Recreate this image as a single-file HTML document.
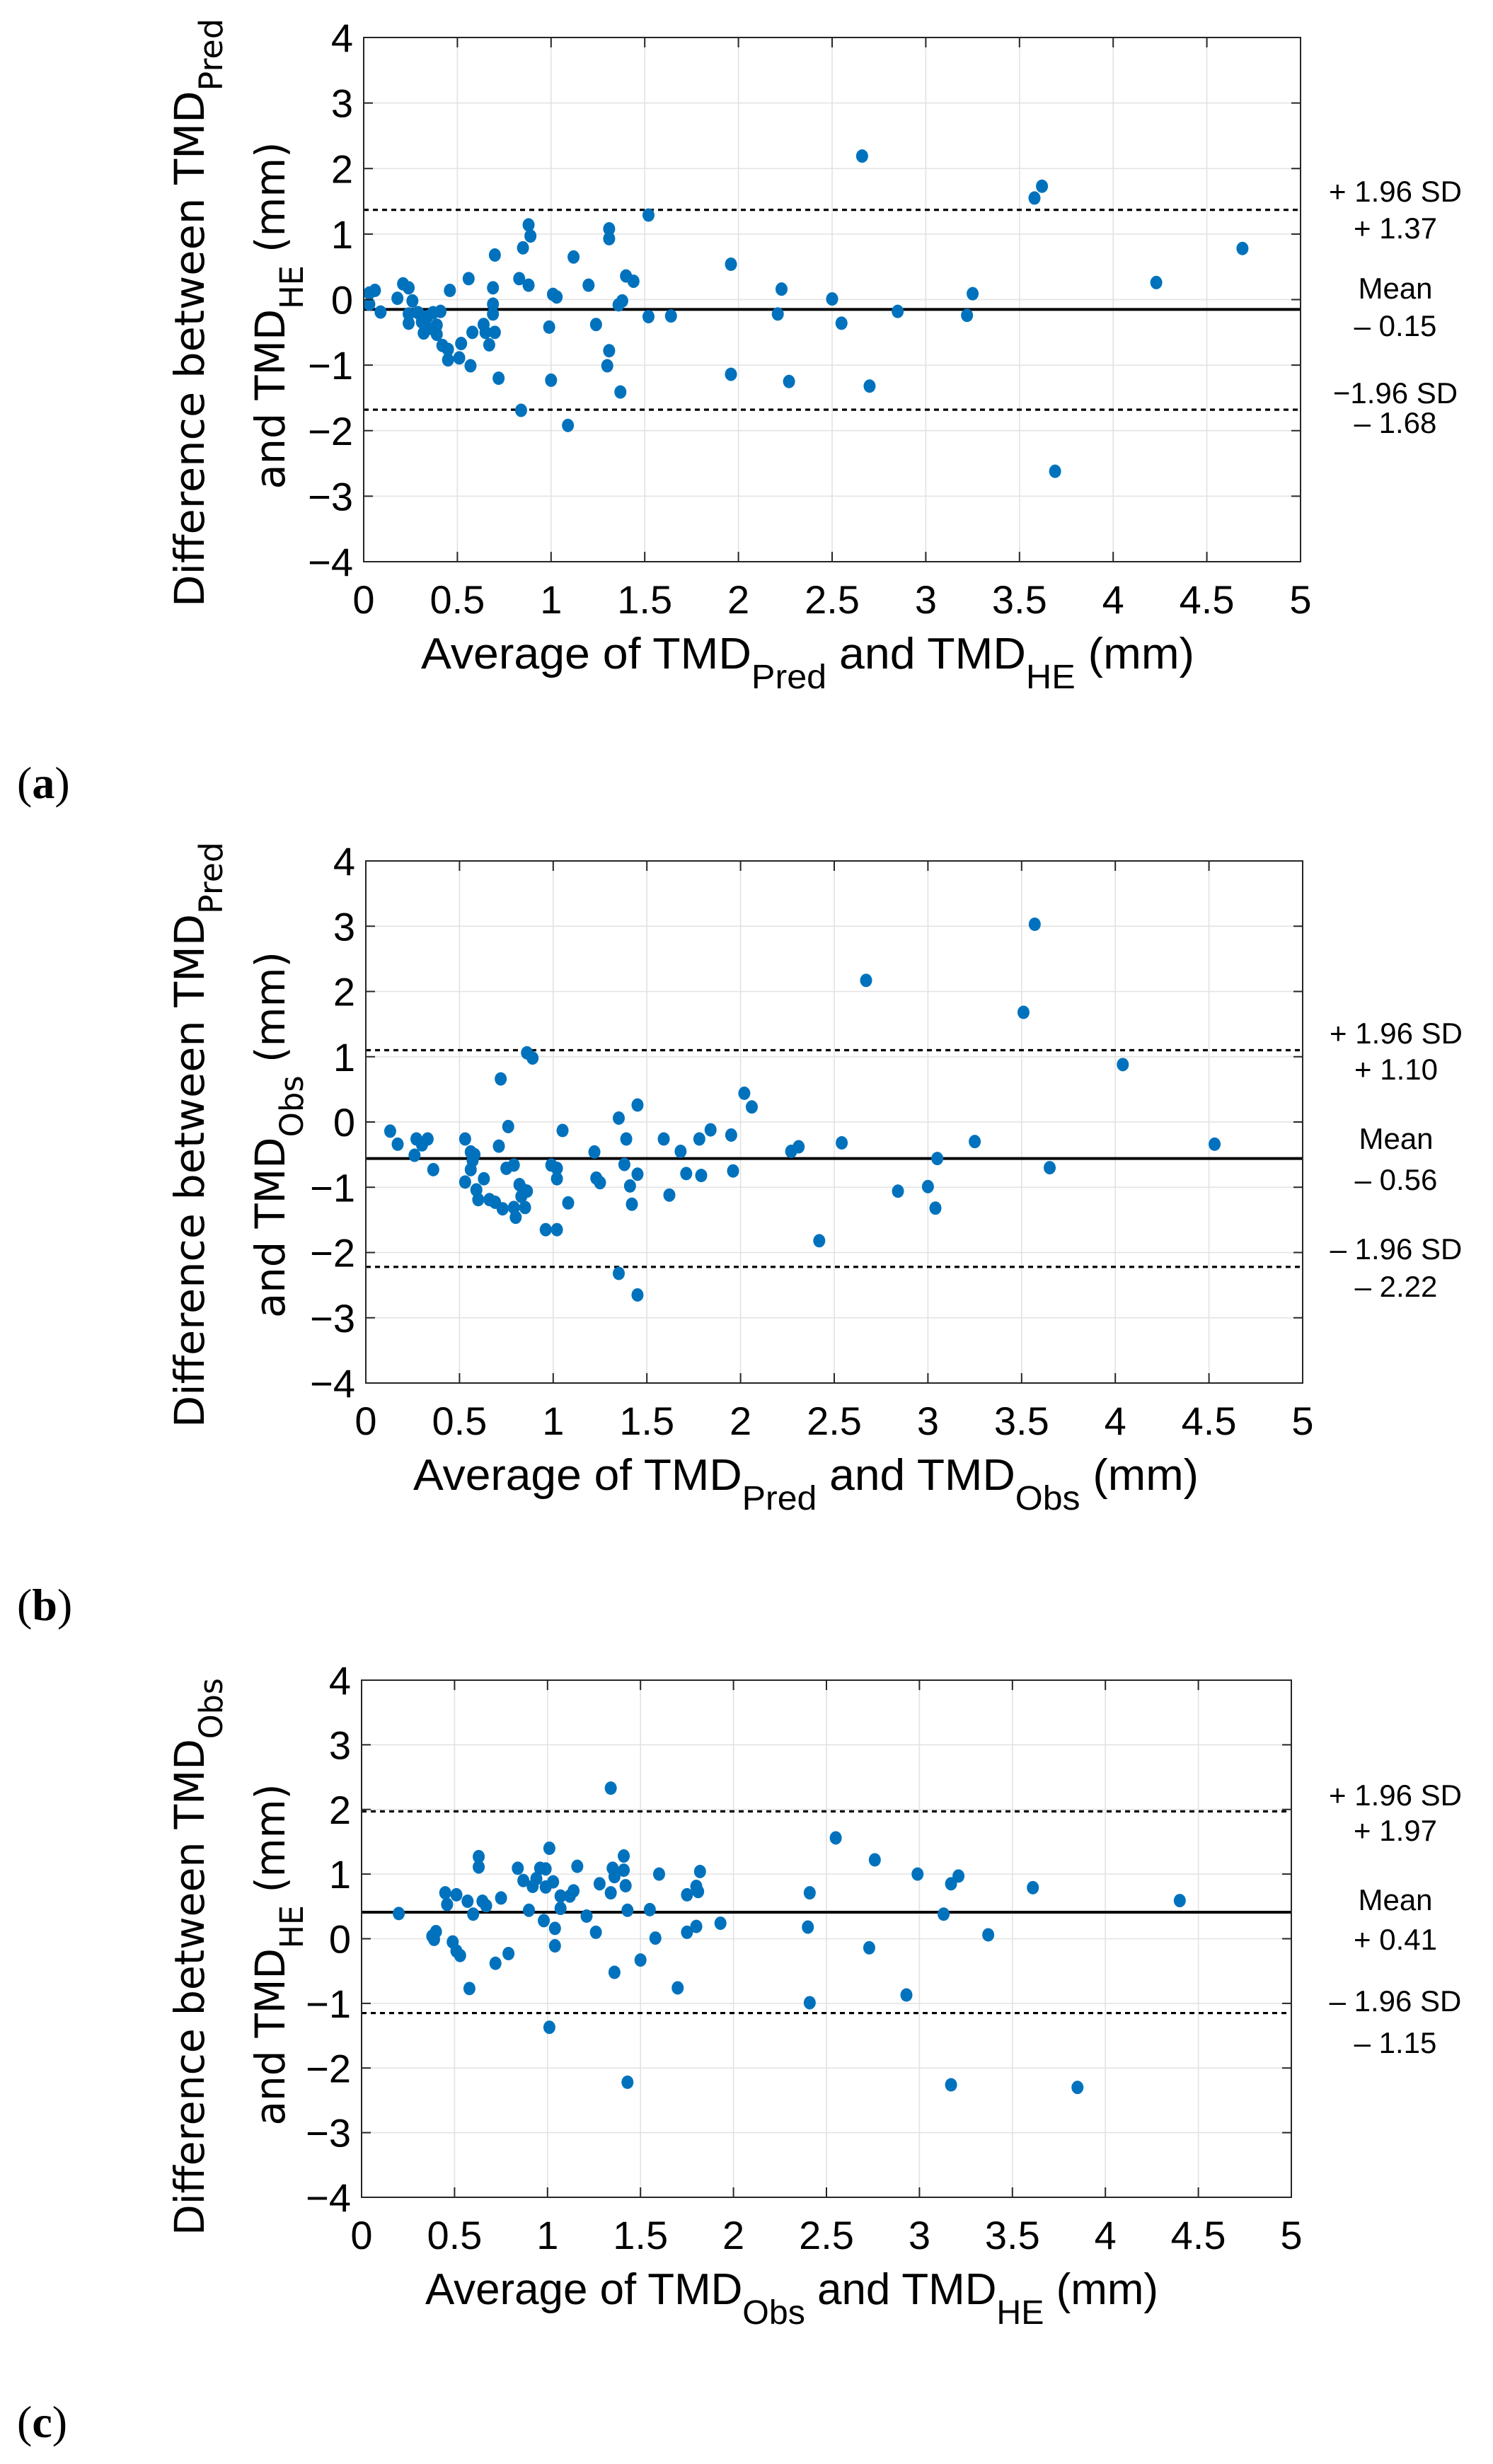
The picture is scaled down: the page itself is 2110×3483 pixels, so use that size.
<!DOCTYPE html>
<html><head><meta charset="utf-8">
<style>
html,body{margin:0;padding:0;background:#fff;}
svg{display:block;}
text{font-family:"Liberation Sans",sans-serif;fill:#000;}
.yl{font-family:"DejaVu Sans","Liberation Sans",sans-serif;}
</style></head>
<body>
<svg id="chart" width="2110" height="3483" viewBox="0 0 2110 3483" xmlns="http://www.w3.org/2000/svg"></svg>
<script>
// ---- data ----
const xTicks = [0,0.5,1,1.5,2,2.5,3,3.5,4,4.5,5];
const xTickLabels = ["0","0.5","1","1.5","2","2.5","3","3.5","4","4.5","5"];
const yTicks = [-4,-3,-2,-1,0,1,2,3,4];
const yTickLabels = ["\u22124","\u22123","\u22122","\u22121","0","1","2","3","4"];

const aAvg = [0.03,0.03,0.06,0.09,0.18,0.21,0.24,0.24,0.24,0.26,0.29,0.31,0.32,0.34,0.35,0.37,0.39,0.39,0.41,0.42,0.45,0.45,0.46,0.51,0.52,0.56,0.57,0.58,0.64,0.65,0.67,0.69,0.69,0.69,0.70,0.70,0.72,0.83,0.84,0.85,0.88,0.88,0.89,0.99,1.0,1.01,1.03,1.09,1.12,1.2,1.24,1.3,1.31,1.31,1.31,1.36,1.37,1.38,1.4,1.44,1.52,1.52,1.64,1.96,1.96,2.21,2.23,2.27,2.5,2.55,2.66,2.70,2.85,3.22,3.25,3.58,3.62,3.69,4.23,4.69];
const aDiff = [0.10,-0.07,0.14,-0.19,0.02,0.24,0.18,-0.22,-0.36,-0.02,-0.2,-0.34,-0.51,-0.26,-0.44,-0.2,-0.53,-0.39,-0.18,-0.7,-0.76,-0.92,0.14,-0.89,-0.67,0.32,-1.01,-0.5,-0.38,-0.5,-0.69,0.18,-0.07,-0.22,-0.5,0.68,-1.2,0.32,-1.69,0.79,1.14,0.22,0.97,-0.42,-1.23,0.08,0.04,-1.92,0.65,0.22,-0.38,-1.01,1.08,0.93,-0.78,-0.08,-1.41,-0.02,0.36,0.28,-0.26,1.29,-0.25,-1.14,0.54,-0.22,0.16,-1.25,0.01,-0.36,2.19,-1.32,-0.18,-0.24,0.09,1.55,1.73,-2.62,0.26,0.78];
const aLimits = [1.37,-0.15,-1.68];
const aLimitText = [["+ 1.96 SD","+ 1.37"],["Mean","\u2013 0.15"],["\u22121.96 SD","\u2013 1.68"]];

const bAvg = [0.13,0.17,0.26,0.27,0.30,0.33,0.36,0.53,0.53,0.56,0.56,0.57,0.58,0.59,0.60,0.63,0.66,0.69,0.71,0.72,0.73,0.75,0.76,0.79,0.79,0.80,0.82,0.83,0.84,0.85,0.86,0.86,0.89,0.96,0.99,1.02,1.02,1.02,1.05,1.08,1.22,1.23,1.25,1.35,1.35,1.38,1.39,1.41,1.42,1.45,1.45,1.45,1.59,1.62,1.68,1.71,1.78,1.79,1.84,1.95,1.96,2.02,2.06,2.27,2.31,2.42,2.54,2.67,2.84,3.0,3.04,3.05,3.25,3.51,3.57,3.65,4.04,4.53];
const bDiff = [-0.14,-0.34,-0.51,-0.26,-0.35,-0.26,-0.73,-0.26,-0.92,-0.46,-0.73,-0.59,-0.5,-1.04,-1.19,-0.87,-1.19,-1.23,-0.37,0.66,-1.33,-0.71,-0.07,-0.66,-1.31,-1.46,-0.96,-1.14,-1.04,-1.31,-1.06,1.06,0.98,-1.65,-0.66,-0.71,-1.65,-0.87,-0.13,-1.24,-0.46,-0.86,-0.93,0.06,-2.32,-0.65,-0.26,-0.98,-1.26,0.26,-0.8,-2.65,-0.26,-1.12,-0.45,-0.79,-0.26,-0.82,-0.12,-0.2,-0.75,0.44,0.23,-0.45,-0.38,-1.82,-0.32,2.17,-1.06,-0.99,-1.32,-0.56,-0.3,1.68,3.03,-0.7,0.88,-0.34];
const bLimits = [1.10,-0.56,-2.22];
const bLimitText = [["+ 1.96 SD","+ 1.10"],["Mean","\u2013 0.56"],["\u2013 1.96 SD","\u2013 2.22"]];

const cAvg = [0.2,0.38,0.39,0.40,0.45,0.46,0.49,0.51,0.51,0.53,0.57,0.58,0.60,0.63,0.63,0.65,0.67,0.72,0.75,0.79,0.84,0.87,0.90,0.92,0.94,0.96,0.98,0.99,0.99,1.01,1.03,1.04,1.04,1.01,1.07,1.07,1.12,1.14,1.16,1.21,1.26,1.28,1.34,1.34,1.35,1.36,1.36,1.41,1.41,1.42,1.43,1.43,1.5,1.55,1.58,1.60,1.70,1.75,1.75,1.80,1.80,1.81,1.82,1.93,2.40,2.41,2.41,2.55,2.73,2.76,2.93,2.99,3.13,3.17,3.17,3.21,3.37,3.61,3.85,4.40];
const cDiff = [0.39,0.04,-0.01,0.11,0.71,0.53,-0.05,-0.19,0.68,-0.26,0.58,-0.77,0.38,1.27,1.11,0.58,0.51,-0.38,0.63,-0.23,1.09,0.9,0.44,0.81,0.93,1.09,0.28,1.08,0.8,1.4,0.88,0.16,-0.11,-1.37,0.66,0.47,0.66,0.74,1.12,0.35,0.1,0.85,2.33,0.71,1.09,0.96,-0.52,1.28,1.06,0.82,0.44,-2.22,-0.33,0.45,0.01,1.0,-0.76,0.68,0.1,0.81,0.19,0.73,1.04,0.24,0.18,-0.99,0.71,1.56,-0.14,1.22,-0.87,1.0,0.38,0.85,-2.26,0.97,0.06,0.79,-2.3,0.59];
const cLimits = [1.97,0.41,-1.15];
const cLimitText = [["+ 1.96 SD","+ 1.97"],["Mean","+ 0.41"],["\u2013 1.96 SD","\u2013 1.15"]];

// ---- drawing ----
const NS = "http://www.w3.org/2000/svg";
const svg = document.getElementById("chart");
function mk(tag, attrs, parent){
  const e = document.createElementNS(NS, tag);
  for (const k in attrs) e.setAttribute(k, attrs[k]);
  (parent||svg).appendChild(e);
  return e;
}

const panels = [
  {id:"a", L:514, R:1838, T:53, B:794, avg:aAvg, diff:aDiff, lim:aLimits, limText:aLimitText,
   labY:[270,322,407,460,555,597], labX:1972,
   y1:{c:442,len:832,parts:[["Difference between TMD",""],["Pred","sub"]]},
   y2:{c:446,len:491,parts:[["and TMD",""],["HE","sub"],[" (mm)",""]]},
   x:{x0:595,len:1093,parts:[["Average of TMD",""],["Pred","sub"],[" and TMD",""],["HE","sub"],[" (mm)",""]]},
   letter:"a", letterY:1108},
  {id:"b", L:517, R:1841, T:1217, B:1955, avg:bAvg, diff:bDiff, lim:bLimits, limText:bLimitText,
   labY:[1460,1511,1609,1667,1765,1818], labX:1973,
   y1:{c:1604,len:828,parts:[["Difference between TMD",""],["Pred","sub"]]},
   y2:{c:1604,len:518,parts:[["and TMD",""],["Obs","sub"],[" (mm)",""]]},
   x:{x0:584,len:1110,parts:[["Average of TMD",""],["Pred","sub"],[" and TMD",""],["Obs","sub"],[" (mm)",""]]},
   letter:"b", letterY:2270},
  {id:"c", L:511, R:1825, T:2375, B:3106, avg:cAvg, diff:cDiff, lim:cLimits, limText:cLimitText,
   labY:[2537,2587,2685,2741,2828,2887], labX:1972,
   y1:{c:2766,len:788,parts:[["Difference between TMD",""],["Obs","sub"]]},
   y2:{c:2763,len:483,parts:[["and TMD",""],["HE","sub"],[" (mm)",""]]},
   x:{x0:601,len:1036,parts:[["Average of TMD",""],["Obs","sub"],[" and TMD",""],["HE","sub"],[" (mm)",""]]},
   letter:"c", letterY:3425}
];

function addParts(t, parts, size){
  parts.forEach((p,i)=>{
    const ts = mk("tspan", {}, t);
    ts.textContent = p[0];
    const prev = i>0 ? parts[i-1][1] : "";
    if (p[1]==="sub"){ ts.setAttribute("font-size", size*0.78); ts.setAttribute("dy", size*0.45); }
    else { ts.setAttribute("font-size", size); ts.setAttribute("dy", prev==="sub" ? -size*0.45 : 0); }
  });
}

panels.forEach(P=>{
  const g = mk("g", {});
  
  
  const sx = v => P.L + (v-0)/(5-0)*(P.R-P.L);
  const sy = v => P.B - (v-(-4))/(8)*(P.B-P.T);

  const grid = mk("g", {stroke:"#e2e2e2","stroke-width":1.6}, g);
  
  
  xTicks.forEach(v=>mk("line",{x1:sx(v),x2:sx(v),y1:P.T,y2:P.B},grid));
  yTicks.forEach(v=>mk("line",{x1:P.L,x2:P.R,y1:sy(v),y2:sy(v)},grid));

  P.lim.forEach((v,i)=>{
    const ln = mk("line",{x1:P.L,x2:P.R,y1:sy(v),y2:sy(v),stroke:"#000",
      "stroke-width": i===1?4:3.2, "stroke-dasharray": i===1?"none":"7,6"}, g);
    
    
  });

  const pts = mk("g",{fill:"#0072BD"},g);
  
  
  P.avg.forEach((a,i)=>{
    const c = mk("ellipse",{cx:sx(a),cy:sy(P.diff[i]),rx:8.5,ry:9.5},pts);
    
    
  });

  const box = mk("rect",{x:P.L,y:P.T,width:P.R-P.L,height:P.B-P.T,fill:"none",stroke:"#262626","stroke-width":2},g);
  
  
  const tk = mk("g",{stroke:"#262626","stroke-width":2},g);
  xTicks.forEach(v=>{ mk("line",{x1:sx(v),x2:sx(v),y1:P.B,y2:P.B-14},tk); mk("line",{x1:sx(v),x2:sx(v),y1:P.T,y2:P.T+14},tk); });
  yTicks.forEach(v=>{ mk("line",{x1:P.L,x2:P.L+13,y1:sy(v),y2:sy(v)},tk); mk("line",{x1:P.R,x2:P.R-13,y1:sy(v),y2:sy(v)},tk); });

  xTicks.forEach((v,i)=>{
    const t = mk("text",{x:sx(v),y:P.B+73,"text-anchor":"middle","font-size":56},g);
    t.textContent = xTickLabels[i];
    
    
  });
  yTicks.forEach((v,i)=>{
    const t = mk("text",{x:P.L-15,y:sy(v)+20,"text-anchor":"end","font-size":56},g);
    t.textContent = yTickLabels[i];
    
    
  });

  P.limText.forEach((pair,i)=>{
    pair.forEach((s,j)=>{
      const t = mk("text",{x:P.labX,y:P.labY[i*2+j]+15,"text-anchor":"middle","font-size":42},g);
      t.textContent = s;
      
      
    });
  });

  [[P.y1,268],[P.y2,382]].forEach((arr,k)=>{
    const yl = arr[0], xc = arr[1];
    const t = mk("text",{x:0,y:0,"text-anchor":"middle","class":"yl",
      transform:"translate("+(xc+20)+","+yl.c+") rotate(-90)",
      textLength:yl.len,lengthAdjust:"spacingAndGlyphs"},g);
    addParts(t, yl.parts, 58);
    
    
  });

  const xl = mk("text",{x:P.x.x0,y:P.B+151,textLength:P.x.len,lengthAdjust:"spacingAndGlyphs"},g);
  addParts(xl, P.x.parts, 62);
  
  

  const lt = mk("text",{x:24,y:P.letterY+20,"font-size":64,style:"font-family:'Liberation Serif',serif"},g);
  const p1 = mk("tspan",{},lt); p1.textContent="(";
  const p2 = mk("tspan",{"font-weight":"bold"},lt); p2.textContent=P.letter;
  const p3 = mk("tspan",{},lt); p3.textContent=")";
  
  
});
</script>
</body></html>
